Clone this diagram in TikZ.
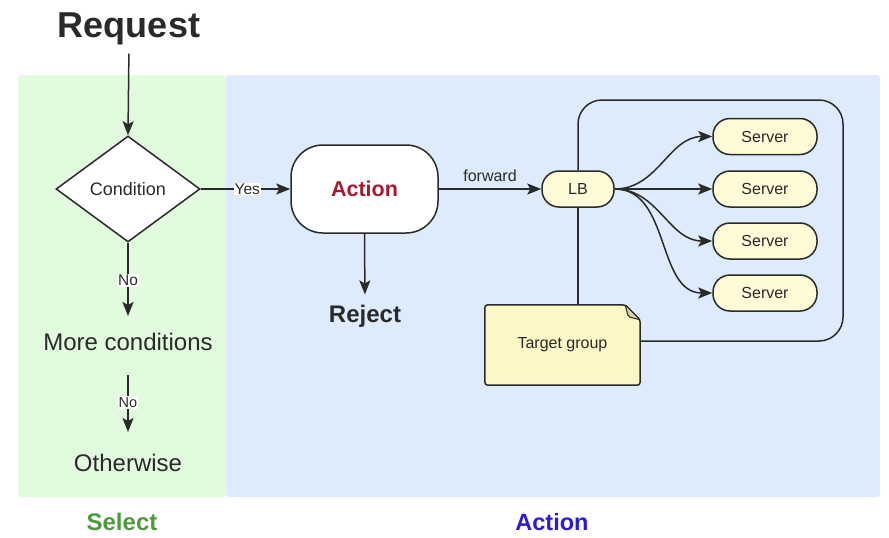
\documentclass[tikz,border=0pt]{standalone}
\usepackage{fontspec}
\setmainfont{Liberation Sans}
\usetikzlibrary{arrows.meta,shapes.geometric,calc}
\definecolor{ink}{HTML}{2A2A2A}
\definecolor{panelgreen}{HTML}{E2FADE}
\definecolor{panelblue}{HTML}{DDEBFC}
\definecolor{pillyel}{HTML}{FEFBD6}
\definecolor{noteyel}{HTML}{FCF7C6}
\definecolor{foldcol}{HTML}{D9D3AA}
\definecolor{actred}{HTML}{A8192E}
\definecolor{selgreen}{HTML}{4E9A3E}
\definecolor{actblue}{HTML}{2B1BD9}
\newcommand\pxfont[1]{\fontsize{#1}{#1}\selectfont}
\tikzset{
  line/.style={draw=ink, line width=1.5pt},
  arr/.style={line, -{Stealth[length=14pt,width=11pt,inset=3pt]}},
  txt/.style={text=ink, inner sep=0pt},
  condbox/.style={diamond, draw=ink, line width=1.5pt, fill=white, aspect=1.36,
    minimum width=144pt, minimum height=106pt, inner sep=0pt, text=ink, font=\pxfont{18}},
  actbox/.style={rectangle, draw=ink, line width=1.5pt, fill=white, rounded corners=32pt,
    minimum width=147pt, minimum height=88pt, text=actred, font=\bfseries\pxfont{21.5}},
  pill/.style={rectangle, draw=ink, line width=1.5pt, fill=pillyel, rounded corners=17pt,
    minimum height=36pt, text=ink, font=\pxfont{16}},
  lbl/.style={fill=white, inner sep=1pt, text=ink, font=\pxfont{15.5}},
}
\begin{document}
\begin{tikzpicture}[x=1pt,y=-1pt]
\useasboundingbox (0,0) rectangle (889,538);
% panels
\fill[panelgreen, rounded corners=3pt] (18,75) rectangle (226,497);
\fill[panelblue, rounded corners=3pt] (226,75) rectangle (880,497);

% texts
\node[txt, anchor=base, font=\bfseries\pxfont{36}] (req) at (129,37) {Request};
\node[condbox] (cond) at (128,189) {Condition};
\node[txt, font=\pxfont{24}] (more) at (128,342) {More conditions};
\node[txt, font=\pxfont{24}] (other) at (128,463) {Otherwise};
\node[actbox] (act) at (364.5,189) {Action};
\node[txt, font=\bfseries\pxfont{24}, anchor=base] (rej) at (365,322) {Reject};
\node[pill, minimum width=72pt] (lb) at (578,189) {LB};
\node[pill, minimum width=104pt] (s1) at (765,136.5) {Server};
\node[pill, minimum width=104pt] (s2) at (765,189) {Server};
\node[pill, minimum width=104pt] (s3) at (765,241) {Server};
\node[pill, minimum width=104pt] (s4) at (765,293) {Server};
\node[inner sep=0pt, minimum width=155pt, minimum height=80pt, text=ink, font=\pxfont{16}] (tg) at (562.5,345) {Target group};
\node[txt, font=\bfseries\pxfont{24}, text=selgreen] (sel) at (122,522) {Select};
\node[txt, font=\bfseries\pxfont{23.5}, text=actblue] (actlab) at (552,522) {Action};

% target group note shape
\draw[line, fill=noteyel, rounded corners=3pt] (tg.south west) -- (tg.north west)
  -- ($(tg.north east)+(-15,0)$) -- ($(tg.north east)+(0,15)$) -- (tg.south east) -- cycle;
\draw[line, fill=foldcol, line width=1pt, rounded corners=2pt] ($(tg.north east)+(-15,0)$)
  -- ($(tg.north east)+(0,15)$) -- ($(tg.north east)+(-12,12)$) -- cycle;
\node[text=ink, font=\pxfont{16}] at (tg) {Target group};

% loop
\coordinate (looptr) at (843,100);
\coordinate (loopbr) at (843,341);
\draw[line, rounded corners=24pt] (lb.north) -- (lb.north |- looptr) -- (looptr) -- (loopbr) -- (tg.east |- loopbr);
\draw[line] (lb.south) -- (lb.south |- tg.north);

% connectors
\draw[arr, shorten <=9pt] (req.south) -- (cond.north);
\draw[arr] (cond.east) -- node[lbl, pos=0.52] {Yes} (act.west);
\draw[arr, shorten >=17pt] (cond.south) -- node[lbl, pos=0.42] {No} (more.north);
\draw[arr, shorten <=24pt, shorten >=22pt] (more.south) -- node[lbl, font=\pxfont{14.5}, pos=0.5] {No} (other.north);
\draw[arr, shorten >=10pt] (act.south) -- (rej.north);
\draw[arr] (act.east) -- node[txt, font=\pxfont{16}, above=7pt] {forward} (lb.west);
\draw[arr] (lb.east) to[out=0, in=180] (s1.west);
\draw[arr] (lb.east) -- (s2.west);
\draw[arr] (lb.east) to[out=0, in=180] (s3.west);
\draw[arr] (lb.east) to[out=0, in=180] (s4.west);
\end{tikzpicture}
\end{document}
